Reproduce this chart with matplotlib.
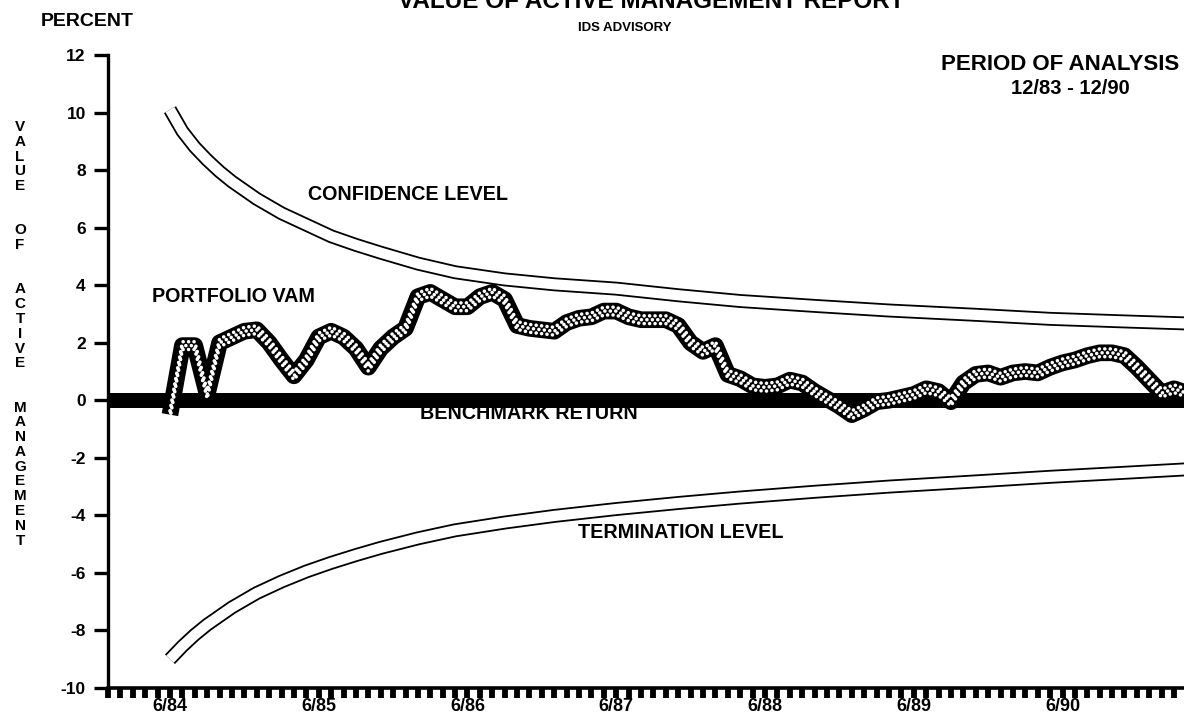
import matplotlib
matplotlib.use("Agg")
import matplotlib.pyplot as plt
from matplotlib.transforms import offset_copy

plt.rcParams['font.family'] = ['Liberation Sans', 'DejaVu Sans']

# ---- data (x = months after 1/84) ----
vam_months = list(range(5, 88))
vam_values = [-0.5, 1.9, 1.9, 0.2, 2.0, 2.2, 2.4, 2.45, 2.0, 1.4,
              0.85, 1.4, 2.2, 2.4, 2.2, 1.8, 1.15, 1.8, 2.2, 2.5,
              3.6, 3.75, 3.5, 3.25, 3.25, 3.6, 3.75, 3.5, 2.6, 2.5,
              2.45, 2.4, 2.7, 2.85, 2.9, 3.1, 3.1, 2.9, 2.8, 2.8,
              2.8, 2.6, 2.0, 1.7, 1.9, 0.9, 0.75, 0.5, 0.45, 0.5,
              0.7, 0.6, 0.3, 0.05, -0.2, -0.5, -0.3, -0.05, 0.0, 0.1,
              0.2, 0.4, 0.3, -0.05, 0.6, 0.9, 0.95, 0.8, 0.95, 1.0,
              0.95, 1.15, 1.3, 1.4, 1.55, 1.65, 1.65, 1.55, 1.15, 0.7,
              0.25, 0.4, 0.25]

band_months = [5, 6, 7, 8, 9, 10, 12, 14, 16, 18, 20, 22, 25, 28, 32, 36,
               41, 46, 51, 57, 63, 70, 76, 82, 87]
confidence = [10.1, 9.35, 8.8, 8.35, 7.95, 7.6, 7.0, 6.5, 6.1, 5.7, 5.4,
              5.13, 4.75, 4.45, 4.2, 4.03, 3.88, 3.65, 3.45, 3.28, 3.12,
              2.97, 2.83, 2.74, 2.67]
termination = [-9.0, -8.55, -8.15, -7.8, -7.5, -7.2, -6.7, -6.3, -5.95,
               -5.65, -5.38, -5.13, -4.8, -4.52, -4.25, -4.02, -3.78, -3.57,
               -3.38, -3.18, -3.0, -2.82, -2.66, -2.52, -2.4]
benchmark = 0.0

xtick_pos = [5, 17, 29, 41, 53, 65, 77]
xtick_labels = ['6/84', '6/85', '6/86', '6/87', '6/88', '6/89', '6/90']
ytick_vals = [-10, -8, -6, -4, -2, 0, 2, 4, 6, 8, 10, 12]

fig = plt.figure(figsize=(11.84, 7.19), dpi=100)
ax = fig.add_axes([108/1184, 31/719, 1 - 108/1184, (688-55)/719])
ax.set_xlim(0, 86.8)
ax.set_ylim(-10, 12)

# benchmark
ax.axhline(benchmark, color='black', lw=10.8, zorder=2, solid_capstyle='butt')

# confidence / termination bands (outlined white bands)
for series in (confidence, termination):
    ax.plot(band_months, series, color='black', lw=10, zorder=3,
            solid_capstyle='butt', solid_joinstyle='round')
    ax.plot(band_months, series, color='white', lw=7.4, zorder=4,
            solid_capstyle='butt', solid_joinstyle='round')

# portfolio VAM (cross-hatched band)
ax.plot(vam_months, vam_values, color='black', lw=12, zorder=5,
        solid_capstyle='butt', solid_joinstyle='round')
for dx, dy, ph in [(0, 0, 0.75), (0, 2.8, 0.0), (0, -2.8, 0.0)]:
    tr = offset_copy(ax.transData, fig=fig, x=dx, y=dy, units='points')
    ax.plot(vam_months, vam_values, color='white', lw=2.6, zorder=6,
            linestyle=(ph, (0.01, 1.5)), dash_capstyle='round', transform=tr)

# axes styling
for s in ('top', 'right'):
    ax.spines[s].set_visible(False)
ax.spines['left'].set_linewidth(2.4)
ax.spines['bottom'].set_linewidth(2.6)
ax.set_yticks(ytick_vals)
ax.set_yticklabels([str(v) for v in ytick_vals], fontsize=12.5,
                   fontweight='bold')
ax.tick_params(axis='y', direction='out', length=10, width=2.4, pad=6)
ax.set_xticks(range(0, 87))
ax.set_xticklabels([])
ax.tick_params(axis='x', direction='out', length=7.5, width=4.2)
for p, lab in zip(xtick_pos, xtick_labels):
    ax.text(p, -10.66, lab, ha='center', va='center', fontsize=13,
            fontweight='bold')

# annotations
kw = dict(fontsize=14.2, fontweight='bold', color='black', zorder=10)
ax.text(16.1, 7.15, 'CONFIDENCE LEVEL', ha='left', va='center', **kw)
ax.text(3.55, 3.6, 'PORTFOLIO VAM', ha='left', va='center', **kw)
ax.text(25.2, -0.45, 'BENCHMARK RETURN', ha='left', va='center', **kw)
ax.text(37.9, -4.6, 'TERMINATION LEVEL', ha='left', va='center', **kw)

fig.text(1060/1184, 1 - 64/719, 'PERIOD OF ANALYSIS', ha='center',
         va='center', fontsize=16, fontweight='bold')
fig.text(1070/1184, 1 - 88/719, '12/83 - 12/90', ha='center',
         va='center', fontsize=14.5, fontweight='bold')
fig.text(87/1184, 1 - 21/719, 'PERCENT', ha='center', va='center',
         fontsize=14, fontweight='bold')
fig.text(625/1184, 1 - 28/719, 'IDS ADVISORY', ha='center', va='center',
         fontsize=9.5, fontweight='bold')
fig.text(651/1184, 1 - 8/719, 'VALUE OF ACTIVE MANAGEMENT REPORT',
         ha='center', va='baseline', fontsize=17.5, fontweight='bold')

ylabel_words = ['VALUE', 'OF', 'ACTIVE', 'MANAGEMENT']
stacked = '\n\n\n'.join('\n'.join(w) for w in ylabel_words)
fig.text(20/1184, 1 - 120/719, stacked, ha='center', va='top',
         fontsize=11, fontweight='bold', linespacing=1.07)

fig.savefig('out.png', dpi=100)
